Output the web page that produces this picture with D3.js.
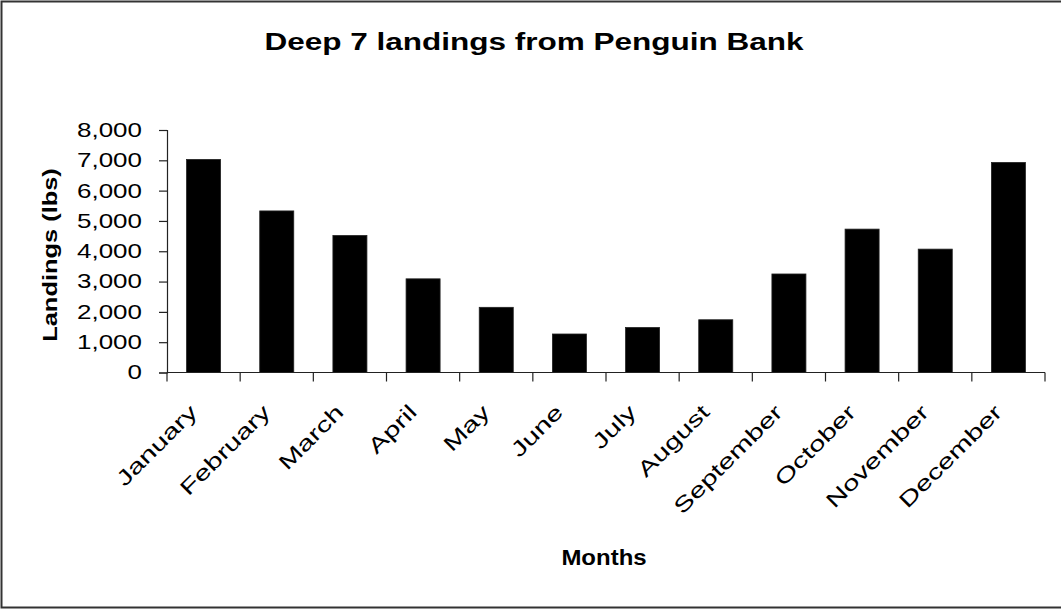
<!DOCTYPE html>
<html>
<head>
<meta charset="utf-8">
<script src="https://cdn.jsdelivr.net/npm/d3@7"></script>
<style>
  html, body { margin: 0; padding: 0; background: #fff; }
  svg { display: block; }
  text { font-family: "Liberation Sans", Arial, sans-serif; fill: #000; }
</style>
</head>
<body>
<svg id="chart" width="1061" height="609"></svg>
<script>
// ---- data ----
const months = ["January", "February", "March", "April", "May", "June",
                "July", "August", "September", "October", "November", "December"];
const landings = [7030, 5330, 4520, 3090, 2150, 1270, 1485, 1740, 3250, 4730, 4070, 6930];
const yTicks = [0, 1000, 2000, 3000, 4000, 5000, 6000, 7000, 8000];
const titleText = "Deep 7 landings from Penguin Bank";
const xTitle = "Months";
const yTitle = "Landings (lbs)";

// ---- layout ----
const W = 1061, H = 609;
const plot = { left: 167, right: 1045, top: 130, bottom: 372.5 };

const svg = d3.select("#chart");

svg.append("rect")
  .attr("x", 1.5).attr("y", 1.5)
  .attr("width", W + 5).attr("height", H - 3)
  .attr("fill", "#fff").attr("stroke", "#333").attr("stroke-width", 2);

const x = d3.scaleBand()
  .domain(months)
  .range([plot.left, plot.right])
  .paddingInner(0.535)
  .paddingOuter(0.2675);

const y = d3.scaleLinear()
  .domain([0, 8000])
  .range([plot.bottom, plot.top]);

// bars
svg.append("g").selectAll("rect")
  .data(months)
  .join("rect")
  .attr("x", d => x(d))
  .attr("width", x.bandwidth())
  .attr("y", (d, i) => y(landings[i]))
  .attr("height", (d, i) => y(0) - y(landings[i]))
  .attr("fill", "#000")
  .attr("stroke", "#222")
  .attr("stroke-width", 0.8);

// y axis
const yAxis = d3.axisLeft(y).tickValues(yTicks).tickSize(8).tickPadding(17)
  .tickFormat(d3.format(","));
const gy = svg.append("g").attr("transform", `translate(${plot.left},0)`).call(yAxis);
gy.select(".domain").attr("stroke", "#222").attr("stroke-width", 1.2);
gy.selectAll(".tick line").attr("stroke", "#222").attr("stroke-width", 1.2);
gy.selectAll(".tick text")
  .attr("font-size", 20)
  .attr("font-family", "Liberation Sans, Arial, sans-serif")
  .each(function () {
    const t = d3.select(this);
    const xx = +t.attr("x");
    t.attr("x", null)
     .attr("transform", `translate(${xx},0) scale(1.3,1)`);
  });

// x axis: line + boundary ticks
const step = x.step();
const boundaries = d3.range(months.length + 1).map(i => plot.left + i * step);
const gx = svg.append("g");
gx.append("line")
  .attr("x1", plot.left).attr("x2", plot.right)
  .attr("y1", y(0)).attr("y2", y(0))
  .attr("stroke", "#222").attr("stroke-width", 1.2);
gx.selectAll("line.tk")
  .data(boundaries)
  .join("line")
  .attr("class", "tk")
  .attr("x1", d => d).attr("x2", d => d)
  .attr("y1", y(0)).attr("y2", y(0) + 9)
  .attr("stroke", "#222").attr("stroke-width", 1.2);

// month labels
gx.selectAll("text.month")
  .data(months)
  .join("text")
  .attr("class", "month")
  .attr("text-anchor", "end")
  .attr("font-size", 21)
  .attr("transform", d => `translate(${x(d) + x.bandwidth() / 2 - 5},${y(0) + 41}) rotate(-45) scale(1.4,1)`)
  .text(d => d);

// titles
svg.append("text")
  .attr("text-anchor", "middle")
  .attr("font-size", 23)
  .attr("font-weight", "bold")
  .attr("transform", `translate(534,50) scale(1.37,1)`)
  .text(titleText);

svg.append("text")
  .attr("text-anchor", "middle")
  .attr("font-size", 22)
  .attr("font-weight", "bold")
  .attr("transform", `translate(604,565) scale(1.09,1)`)
  .text(xTitle);

svg.append("text")
  .attr("text-anchor", "middle")
  .attr("font-size", 20)
  .attr("font-weight", "bold")
  .attr("transform", `translate(57,255) rotate(-90) scale(1.27,1)`)
  .text(yTitle);
</script>
</body>
</html>
